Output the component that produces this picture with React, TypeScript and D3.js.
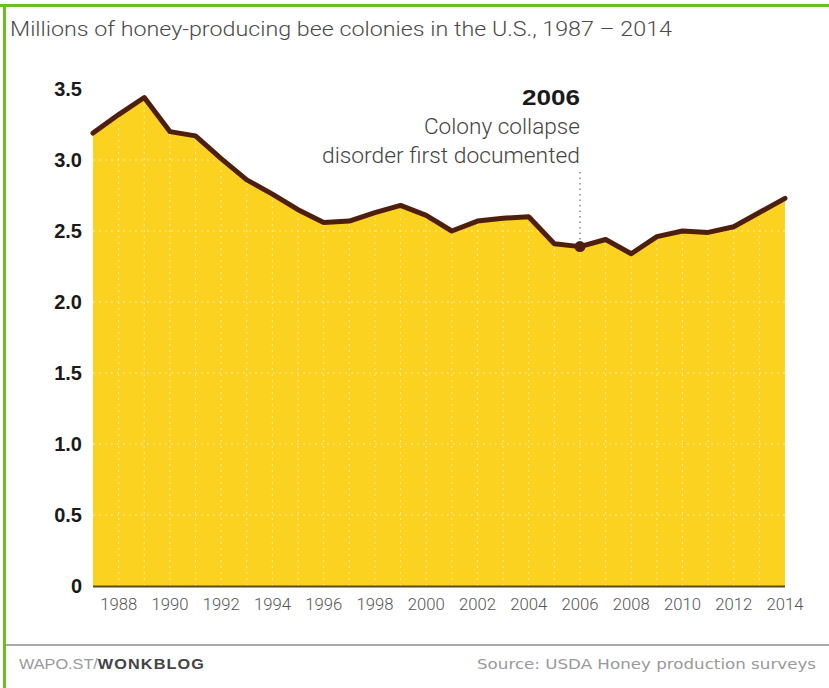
import React from "react";
import * as d3 from "d3";

const years = [1987,1988,1989,1990,1991,1992,1993,1994,1995,1996,1997,1998,1999,2000,2001,2002,2003,2004,2005,2006,2007,2008,2009,2010,2011,2012,2013,2014];
const colonies = [3.19,3.32,3.44,3.20,3.17,3.01,2.86,2.76,2.65,2.56,2.57,2.63,2.68,2.61,2.50,2.57,2.59,2.60,2.41,2.39,2.44,2.34,2.46,2.50,2.49,2.53,2.63,2.73];
const yTicks = [0,0.5,1.0,1.5,2.0,2.5,3.0,3.5];
const xTickYears = [1988,1990,1992,1994,1996,1998,2000,2002,2004,2006,2008,2010,2012,2014];
const title = "Millions of honey-producing bee colonies in the U.S., 1987 – 2014";
const annoYear = 2006;
const annoLines = ["Colony collapse", "disorder first documented"];
const annoWidths = [156, 258];

export default function App() {
  const W = 829, H = 688;
  const x = d3.scaleLinear().domain([1987, 2014]).range([93, 785]);
  const y = d3.scaleLinear().domain([0, 3.5]).range([586, 89]);
  const data = years.map((yr, i) => ({ yr, v: colonies[i] }));
  const area = d3.area<any>().x(d => x(d.yr)).y0(y(0)).y1(d => y(d.v));
  const line = d3.line<any>().x(d => x(d.yr)).y(d => y(d.v));
  const annoIdx = years.indexOf(annoYear);
  const ax = x(annoYear), ay = y(colonies[annoIdx]);
  const condensed = "Roboto, 'Liberation Sans', Arial, sans-serif";
  return (
    <svg width={W} height={H} style={{ position: "absolute", left: 0, top: 0, background: "#fff" }}>
      <rect x={0} y={0} width={W} height={H} fill="#fff" />
      <text x={10} y={36} fontFamily={condensed} fontWeight={300} fontSize={21} fill="#4a4a4a" textLength={662} lengthAdjust="spacingAndGlyphs">{title}</text>
      <path d={area(data) || ""} fill="#fbd21f" />
      {yTicks.filter(t => t > 0).map(t => (
        <line key={"gy" + t} x1={x(1987)} x2={x(2014)} y1={y(t)} y2={y(t)} stroke="#fff" strokeOpacity={0.6} strokeWidth={1.2} strokeDasharray="2,4" />
      ))}
      {years.slice(1, -1).map(yr => (
        <line key={"gx" + yr} x1={x(yr)} x2={x(yr)} y1={y(0)} y2={y(3.5)} stroke="#fff" strokeOpacity={0.5} strokeWidth={1.2} strokeDasharray="2,4" />
      ))}
      <line x1={x(1987)} x2={x(2014)} y1={y(0) + 0.5} y2={y(0) + 0.5} stroke="#5b4a1c" strokeWidth={2} />
      <path d={line(data) || ""} fill="none" stroke="#4e1f0c" strokeWidth={5} strokeLinejoin="round" strokeLinecap="round" />
      {yTicks.map(t => (
        <text key={"yl" + t} x={82} y={y(t)} dy="0.35em" textAnchor="end" fontFamily="'Liberation Sans', Arial, sans-serif" fontWeight="bold" fontSize={20} fill="#1a1a1a">{t === 0 ? "0" : t.toFixed(1)}</text>
      ))}
      {xTickYears.map(yr => (
        <text key={"xl" + yr} x={x(yr)} y={610} textAnchor="middle" fontFamily={condensed} fontWeight={300} fontSize={17} fill="#555" textLength={37} lengthAdjust="spacingAndGlyphs">{yr}</text>
      ))}
      <line x1={ax} x2={ax} y1={172} y2={ay} stroke="#777" strokeWidth={1.3} strokeDasharray="1.5,4" />
      <circle cx={ax} cy={ay} r={5.5} fill="#4e1f0c" />
      <text x={ax} y={105} textAnchor="end" fontFamily="'Liberation Sans', Arial, sans-serif" fontWeight="bold" fontSize={22} fill="#1a1a1a" textLength={58} lengthAdjust="spacingAndGlyphs">{annoYear}</text>
      {annoLines.map((l, i) => (
        <text key={l} x={ax} y={134 + i * 29} textAnchor="end" fontFamily={condensed} fontWeight={300} fontSize={22} fill="#444" textLength={annoWidths[i]} lengthAdjust="spacingAndGlyphs">{l}</text>
      ))}
      <line x1={6} x2={W} y1={645} y2={645} stroke="#aaa" strokeWidth={2} />
      <text x={19} y={669} fontFamily="'Liberation Sans', Arial, sans-serif" fontSize={15} fill="#999" textLength={186} lengthAdjust="spacingAndGlyphs">WAPO.ST/<tspan fontWeight="bold" fill="#444" letterSpacing={1}>WONKBLOG</tspan></text>
      <text x={816} y={669} textAnchor="end" fontFamily="'DejaVu Sans', 'Liberation Sans', sans-serif" fontSize={14} fill="#999" textLength={339} lengthAdjust="spacingAndGlyphs">Source: USDA Honey production surveys</text>
      <rect x={0} y={4} width={W} height={3} fill="#6cc01e" />
      <rect x={3} y={4} width={3} height={H - 4} fill="#6cc01e" />
    </svg>
  );
}
